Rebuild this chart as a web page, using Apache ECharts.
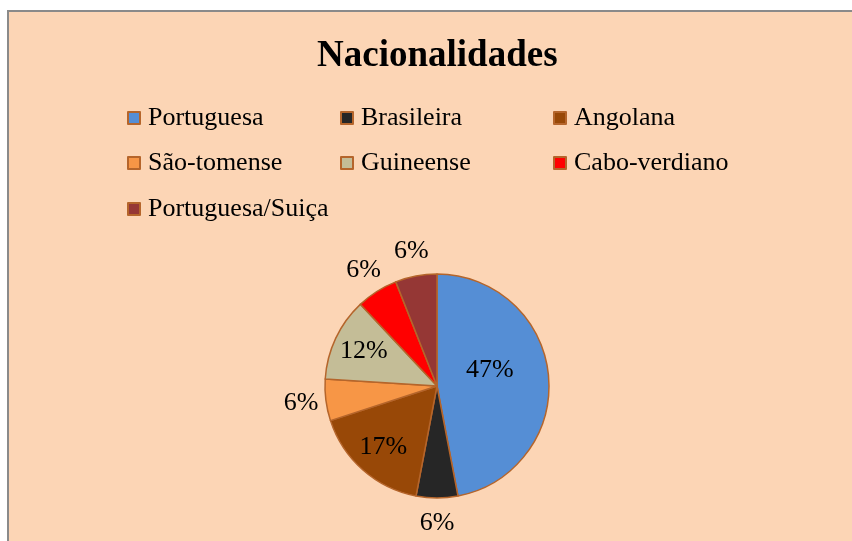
<!DOCTYPE html>
<html>
<head>
<meta charset="utf-8">
<script src="https://cdn.jsdelivr.net/npm/echarts@6/dist/echarts.min.js"></script>
<style>
    html,body{margin:0;padding:0;background:#fff;}
    #chart{width:852px;height:541px;}
</style>
</head>
<body>
<div id="chart"></div>
<script>
    // dados do gráfico
    var categories = ['Portuguesa','Brasileira','Angolana','São-tomense','Guineense','Cabo-verdiano','Portuguesa/Suiça'];
    var shares = [47, 6, 17, 6, 12, 6, 6];
    var colors = ['#558ED5','#262626','#984807','#F79646','#C4BD97','#FF0000','#953735'];
    // onde fica cada rótulo: 'c' = centro, 'm' = dentro mais fora, 'o' = fora do círculo
    var labelPlace = ['c','o','m','o','m','o','o'];

    var font = '"Liberation Serif", "Times New Roman", serif';
    var edge = '#B5652B';
    var center = [437, 386];

    // legenda em grelha 3 colunas
    var legendCols = [127, 340, 553];
    var legendRows = [105, 150, 196];
    var legends = [];
    categories.forEach(function (name, i) {
        legends.push({
            left: legendCols[i % 3],
            top: legendRows[Math.floor(i / 3)],
            padding: 0,
            itemWidth: 12,
            itemHeight: 12,
            icon: 'rect',
            selectedMode: false,
            itemStyle: {borderColor: edge, borderWidth: 2},
            textStyle: {fontFamily: font, fontSize: 26, lineHeight: 26, color: '#000', padding: [0, 0, 0, 3]},
            data: [{name: name, itemStyle: {color: colors[i], borderColor: edge, borderWidth: 2}}]
        });
    });

    function labelSeries(place, radius) {
        return {
            type: 'pie',
            center: center,
            radius: radius,
            startAngle: 90,
            silent: true,
            legendHoverLink: false,
            itemStyle: {color: 'transparent', borderWidth: 0},
            labelLine: {show: false},
            emphasis: {disabled: true},
            z: 3,
            data: categories.map(function (name, i) {
                return {
                    name: name,
                    value: shares[i],
                    label: {
                        show: labelPlace[i] === place,
                        position: 'inside',
                        formatter: '{d}%',
                        fontFamily: font,
                        fontSize: 26,
                        color: '#000'
                    }
                };
            })
        };
    }

    var chart = echarts.init(document.getElementById('chart'));
    chart.setOption({
        backgroundColor: '#fff',
        animation: false,
        graphic: [
            {type: 'rect', z: -2, shape: {x: 7, y: 10, width: 900, height: 600}, style: {fill: '#FCD5B5'}},
            {type: 'line', z: -1, shape: {x1: 7, y1: 11, x2: 900, y2: 11}, style: {stroke: '#8A8A8A', lineWidth: 2}},
            {type: 'line', z: -1, shape: {x1: 8, y1: 10, x2: 8, y2: 600}, style: {stroke: '#8A8A8A', lineWidth: 2}}
        ],
        title: {
            text: 'Nacionalidades',
            left: 312,
            top: 33,
            textStyle: {fontFamily: font, fontSize: 37, fontWeight: 'bold', color: '#000'}
        },
        legend: legends,
        series: [
            {
                type: 'pie',
                center: center,
                radius: 112,
                startAngle: 90,
                clockwise: true,
                itemStyle: {borderColor: edge, borderWidth: 1.5},
                labelLine: {show: false},
                labelLayout: {dx: -6, dy: -10},
                emphasis: {disabled: true},
                data: categories.map(function (name, i) {
                    return {
                        name: name,
                        value: shares[i],
                        itemStyle: {color: colors[i]},
                        label: {
                            show: labelPlace[i] === 'c',
                            position: 'inside',
                            formatter: '{d}%',
                            fontFamily: font,
                            fontSize: 26,
                            color: '#000'
                        }
                    };
                })
            },
            labelSeries('m', [44, 112]),
            labelSeries('o', [122, 146])
        ]
    });
</script>
</body>
</html>
